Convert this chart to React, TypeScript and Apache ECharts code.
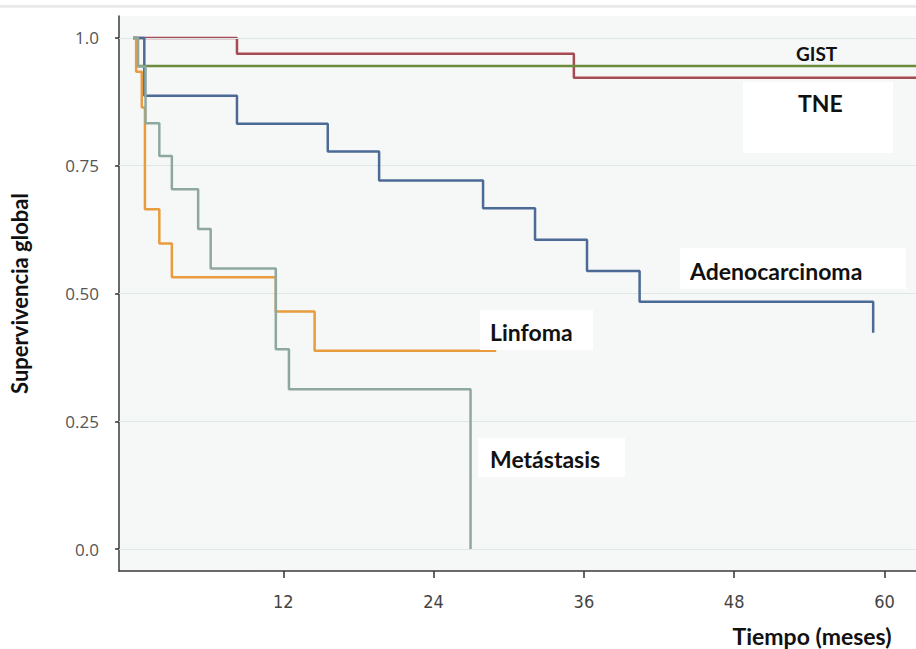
import React, { useEffect, useRef } from "react";
import * as echarts from "echarts";

// Kaplan-Meier curves: time (months) and survival after each event
const tneT = [0, 8.3, 35.2, 62.6];
const tneS = [1, 0.969, 0.922, 0.922];
const gistT = [0, 0.35, 62.6];
const gistS = [1, 0.945, 0.945];
const adenoT = [0, 0.9, 8.3, 15.55, 19.65, 27.95, 32.1, 36.25, 40.45, 59.1];
const adenoS = [1, 0.887, 0.832, 0.778, 0.721, 0.667, 0.605, 0.544, 0.484, 0.423];
const linfT = [0, 0.25, 0.7, 0.95, 2.1, 3.1, 11.4, 14.5, 29.0];
const linfS = [1, 0.934, 0.864, 0.665, 0.598, 0.532, 0.465, 0.388, 0.388];
const metaT = [0, 0.4, 1.0, 2.1, 3.1, 5.2, 6.2, 11.4, 12.45, 26.95];
const metaS = [1, 0.944, 0.833, 0.769, 0.704, 0.626, 0.549, 0.391, 0.3125, 0];

const xTicks = [12, 24, 36, 48, 60];
const yTicks = [0, 0.25, 0.5, 0.75, 1.0];
const yTickLabels = ["0.0", "0.25", "0.50", "0.75", "1.0"];

const groupNames = ["TNE", "GIST", "Adenocarcinoma", "Linfoma", "Metástasis"];
const groupColors = ["#a64b53", "#6c8c3c", "#4b6a95", "#e89c3e", "#8ea89f"];

const zip = (t: number[], s: number[]) => t.map((v, i) => [v, s[i]]);

export default function App() {
  const ref = useRef<HTMLDivElement>(null);
  useEffect(() => {
    if (!ref.current) return;
    const chart = echarts.init(ref.current, undefined, { renderer: "svg" });
    const curves = [
      zip(tneT, tneS),
      zip(gistT, gistS),
      zip(adenoT, adenoS),
      zip(linfT, linfS),
      zip(metaT, metaS),
    ];
    const labelFont = "bold 23px Lato, 'Open Sans', sans-serif";
    const box = (x: number, y: number, w: number, h: number) => ({
      type: "rect",
      z: 50,
      shape: { x, y, width: w, height: h },
      style: { fill: "#ffffff", opacity: 0.95 },
      silent: true,
    });
    const lbl = (text: string, x: number, y: number, font = labelFont) => ({
      type: "text",
      z: 60,
      x,
      y,
      style: { text, font, fill: "#111111", align: "left", verticalAlign: "middle" },
      silent: true,
    });
    chart.setOption({
      animation: false,
      backgroundColor: "#ffffff",
      grid: {
        left: 119,
        top: 16,
        right: 0,
        bottom: 78,
        show: true,
        containLabel: false,
        outerBoundsMode: "none",
        backgroundColor: "#f6f7f7",
        borderWidth: 0,
      },
      xAxis: {
        type: "value",
        min: -1.12,
        max: 62.52,
        axisLine: { show: true, onZero: false, lineStyle: { color: "#3a3a3a", width: 1.5 } },
        axisTick: {
          show: true,
          customValues: xTicks,
          length: 7,
          lineStyle: { color: "#333", width: 1.5 },
        },
        axisLabel: {
          customValues: xTicks,
          margin: 21,
          fontSize: 18,
          color: "#444",
          fontFamily: "'Liberation Sans Narrow', 'DejaVu Sans Condensed', sans-serif",
        },
        splitLine: { show: false },
      },
      yAxis: {
        type: "value",
        min: -0.043,
        max: 1.043,
        name: "Supervivencia global",
        nameLocation: "middle",
        nameGap: 89,
        nameRotate: 90,
        nameTextStyle: {
          fontSize: 22,
          fontWeight: "bold",
          color: "#111",
          fontFamily: "Lato, 'Open Sans', sans-serif",
        },
        axisLine: { show: true, onZero: false, lineStyle: { color: "#3a3a3a", width: 1.5 } },
        axisTick: {
          show: true,
          customValues: yTicks,
          length: 4,
          lineStyle: { color: "#333", width: 1.5 },
        },
        axisLabel: {
          customValues: yTicks,
          margin: 20,
          fontSize: 17,
          color: "#555",
          fontFamily: "'Open Sans', Lato, sans-serif",
          formatter: (v: number) => {
            const i = yTicks.findIndex((t) => Math.abs(t - v) < 1e-6);
            return i >= 0 ? yTickLabels[i] : "";
          },
        },
        splitLine: { show: false },
      },
      graphic: [
        {
          type: "rect",
          z: 40,
          shape: { x: 0, y: 4, width: 916, height: 4 },
          style: {
            fill: {
              type: "linear",
              x: 0,
              y: 0,
              x2: 0,
              y2: 1,
              colorStops: [
                { offset: 0, color: "#ffffff" },
                { offset: 0.6, color: "#e4e4e4" },
                { offset: 1, color: "#f4f4f4" },
              ],
            },
          },
          silent: true,
        },
        box(743, 82, 150, 71),
        box(680, 248, 226, 41),
        box(480, 310, 113, 40),
        box(478, 438, 147, 39),
        lbl("GIST", 796, 53, "bold 19px Lato, 'Open Sans', sans-serif"),
        lbl(groupNames[0], 798, 103),
        lbl(groupNames[2], 690, 271),
        lbl(groupNames[3], 490, 332),
        lbl(groupNames[4], 490, 459),
        {
          type: "text",
          z: 60,
          x: 812,
          y: 636,
          style: {
            text: "Tiempo (meses)",
            font: "bold 23px Lato, 'Open Sans', sans-serif",
            fill: "#111",
            align: "center",
            verticalAlign: "middle",
          },
          silent: true,
        },
      ],
      series: [
        {
          type: "line",
          name: "grid",
          data: [],
          silent: true,
          z: 1,
          markLine: {
            silent: true,
            symbol: "none",
            label: { show: false },
            lineStyle: { color: "#dce8e8", width: 1.2, type: "solid" },
            data: yTicks.map((v) => ({ yAxis: v })),
          },
        },
        ...curves.map((d, i) => ({
          type: "line",
          name: groupNames[i],
          data: d,
          step: "end",
          showSymbol: false,
          z: 3 + i,
          lineStyle: { color: groupColors[i], width: 2.5 },
          itemStyle: { color: groupColors[i] },
        })),
      ],
    });
    return () => chart.dispose();
  }, []);
  return (
    <div
      ref={ref}
      style={{ position: "fixed", left: 0, top: 0, width: 916, height: 649 }}
    />
  );
}
